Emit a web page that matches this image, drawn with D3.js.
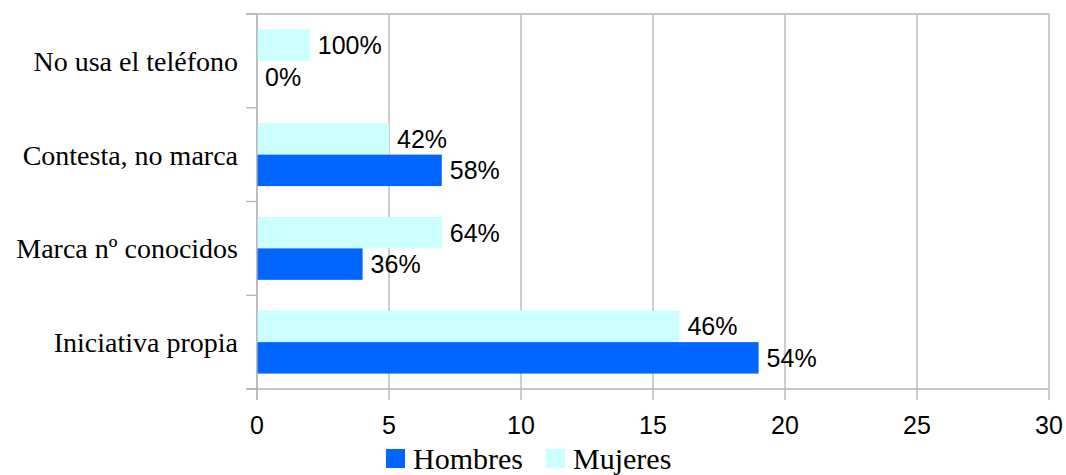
<!DOCTYPE html>
<html><head><meta charset="utf-8">
<script src="https://cdn.jsdelivr.net/npm/d3@7"></script>
<style>body{margin:0;background:#fff}svg{display:block}</style>
</head><body>
<svg id="chart" width="1066" height="475"></svg>
<script>
const categories = ["No usa el teléfono", "Contesta, no marca", "Marca nº conocidos", "Iniciativa propia"];
const seriesNames = ["Mujeres", "Hombres"];
const mujeres = [2, 5, 7, 16];
const hombres = [0, 7, 4, 19];
const mujeresLabels = ["100%", "42%", "64%", "46%"];
const hombresLabels = ["0%", "58%", "36%", "54%"];
const xTicks = [0, 5, 10, 15, 20, 25, 30];
const colors = {Hombres: "#0066ff", Mujeres: "#ccffff"};

(function () {
const svg = d3.select("#chart");
const pL = 257, pR = 1049, pT = 14, pB = 389;
const grid = "#b3b3b3";

const x = d3.scaleLinear().domain([0, 30]).range([pL, pR]);
const y = d3.scaleBand().domain(categories).range([pT, pB]).padding(0);
const ys = d3.scaleBand().domain(seriesNames).range([0, y.bandwidth()]).paddingInner(0).paddingOuter(0.49);

// gridlines
svg.append("g").selectAll("line").data(xTicks).join("line")
  .attr("x1", d => x(d)).attr("x2", d => x(d))
  .attr("y1", pT).attr("y2", pB + 11)
  .attr("stroke", grid).attr("stroke-width", 1.3);

// top & bottom border
svg.append("line").attr("x1", pL - 11).attr("x2", pR).attr("y1", pT).attr("y2", pT)
  .attr("stroke", grid).attr("stroke-width", 1.3);
svg.append("line").attr("x1", pL - 11).attr("x2", pR).attr("y1", pB).attr("y2", pB)
  .attr("stroke", grid).attr("stroke-width", 1.3);

// category boundary ticks
const bounds = categories.map(c => y(c)).concat([pB]);
svg.append("g").selectAll("line").data(bounds).join("line")
  .attr("x1", pL - 11).attr("x2", pL).attr("y1", d => d).attr("y2", d => d)
  .attr("stroke", grid).attr("stroke-width", 1.3);

// bars
const data = categories.map((c, i) => ({c, Mujeres: mujeres[i], Hombres: hombres[i], lM: mujeresLabels[i], lH: hombresLabels[i]}));
const g = svg.append("g");
data.forEach(d => {
  seriesNames.forEach(s => {
    const yy = y(d.c) + ys(s);
    g.append("rect").attr("x", x(0)).attr("y", yy)
      .attr("width", x(d[s]) - x(0)).attr("height", ys.bandwidth())
      .attr("fill", colors[s]);
    g.append("text").attr("x", x(d[s]) + 8).attr("y", yy + ys.bandwidth() / 2 + 9)
      .attr("font-family", "Liberation Sans, Arial, sans-serif").attr("font-size", 25)
      .attr("fill", "#000").text(s === "Mujeres" ? d.lM : d.lH);
  });
});

// left axis line
svg.append("line").attr("x1", pL).attr("x2", pL).attr("y1", pT).attr("y2", pB + 11)
  .attr("stroke", grid).attr("stroke-width", 1.3);

// category labels
svg.append("g").selectAll("text").data(categories).join("text")
  .attr("x", 238).attr("y", d => y(d) + y.bandwidth() / 2 + 10)
  .attr("text-anchor", "end")
  .attr("font-family", "Liberation Serif, Times New Roman, serif").attr("font-size", 28)
  .attr("fill", "#000").text(d => d);

// x tick labels
svg.append("g").selectAll("text").data(xTicks).join("text")
  .attr("x", d => x(d)).attr("y", 434)
  .attr("text-anchor", "middle")
  .attr("font-family", "Liberation Sans, Arial, sans-serif").attr("font-size", 25)
  .attr("fill", "#000").text(d => d);

// legend
const legendItems = [{n: "Hombres", x: 386}, {n: "Mujeres", x: 546}];
const lg = svg.append("g");
legendItems.forEach(it => {
  lg.append("rect").attr("x", it.x).attr("y", 449).attr("width", 19).attr("height", 19).attr("fill", colors[it.n]);
  lg.append("text").attr("x", it.x + 27).attr("y", 469)
    .attr("font-family", "Liberation Serif, Times New Roman, serif").attr("font-size", 30)
    .attr("fill", "#000").text(it.n);
});
})();
</script>
</body></html>
